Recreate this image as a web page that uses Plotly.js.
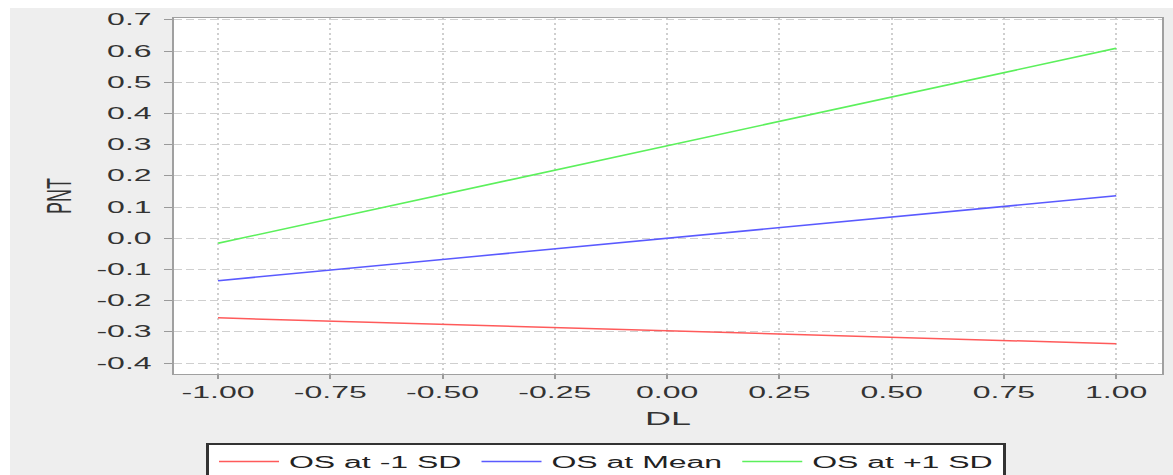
<!DOCTYPE html>
<html>
<head>
<meta charset="utf-8">
<script src="https://cdn.plot.ly/plotly-3.0.1.min.js"></script>
<style>
  html, body { margin: 0; padding: 0; background: #ffffff; width: 1173px; height: 475px; overflow: hidden; }
  #panel { position: absolute; left: 10px; top: 8px; width: 1163px; height: 467px; background: #eeeeee; }
  #wrap { position: absolute; left: 0; top: 0; width: 586.5px; height: 475px; transform: scaleX(2); transform-origin: 0 0; }
  #chart { width: 586.5px; height: 475px; }
</style>
</head>
<body>
<div id="panel"></div>
<div id="wrap"><div id="chart"></div></div>
<script>
// ---- data ----
const dlValues = [-1.0, 1.0];
const seriesNames = ['OS at -1 SD', 'OS at Mean', 'OS at +1 SD'];
const osMinus1SD = [-0.255, -0.338];
const osMean = [-0.136, 0.136];
const osPlus1SD = [-0.016, 0.609];
const seriesColors = ['#ff5a5a', '#5a5aff', '#5cf05c'];
const xTickVals = [-1.0, -0.75, -0.5, -0.25, 0.0, 0.25, 0.5, 0.75, 1.0];
const xTickText = ['-1.00', '-0.75', '-0.50', '-0.25', '0.00', '0.25', '0.50', '0.75', '1.00'];
const yTickVals = [-0.4, -0.3, -0.2, -0.1, 0.0, 0.1, 0.2, 0.3, 0.4, 0.5, 0.6, 0.7];
const yTickText = ['-0.4', '-0.3', '-0.2', '-0.1', '0.0', '0.1', '0.2', '0.3', '0.4', '0.5', '0.6', '0.7'];

const seriesValues = [osMinus1SD, osMean, osPlus1SD];
const traces = seriesNames.map((name, i) => ({
  type: 'scatter',
  mode: 'lines',
  name: name,
  x: dlValues,
  y: seriesValues[i],
  line: { color: seriesColors[i], width: 1.5 }
}));

const fontFam = '"Liberation Sans", Arial, sans-serif';
const layout = {
  width: 586.5,
  height: 475,
  margin: { l: 86.5, r: 5.5, t: 18, b: 101, autoexpand: false },
  paper_bgcolor: 'rgba(0,0,0,0)',
  plot_bgcolor: '#ffffff',
  font: { family: fontFam, color: '#333333', size: 16 },
  showlegend: true,
  legend: {
    orientation: 'h',
    x: 0.0324, xanchor: 'left',
    y: -0.194, yanchor: 'top',
    bgcolor: '#ffffff',
    bordercolor: '#333333',
    borderwidth: 1.5,
    font: { family: fontFam, size: 16, color: '#222222' },
    itemwidth: 30
  },
  xaxis: {
    range: [-1.098, 1.102],
    tickvals: xTickVals,
    ticktext: xTickText,
    ticks: 'outside', ticklen: 4, tickcolor: '#999999', tickwidth: 1,
    showline: true, linecolor: '#a0a0a0', linewidth: 1, mirror: true,
    showgrid: true, gridcolor: '#cfcfcf', gridwidth: 1, griddash: '2px,3px',
    zeroline: false,
    tickfont: { family: fontFam, size: 16, color: '#333333' },
    title: { text: 'DL', font: { family: fontFam, size: 18, color: '#333333' }, standoff: 12 }
  },
  yaxis: {
    range: [-0.435, 0.706],
    tickvals: yTickVals,
    ticktext: yTickText,
    ticks: 'outside', ticklen: 4, tickcolor: '#999999', tickwidth: 1,
    ticklabelstandoff: 3,
    showline: true, linecolor: '#a0a0a0', linewidth: 1, mirror: true,
    showgrid: true, gridcolor: '#cfcfcf', gridwidth: 1, griddash: '4px,2px',
    zeroline: false,
    tickfont: { family: fontFam, size: 16, color: '#333333' },
    title: { text: 'PNT', font: { family: fontFam, size: 18, color: '#333333' }, standoff: 7 }
  }
};

Plotly.newPlot('chart', traces, layout, { displayModeBar: false, staticPlot: true });
</script>
</body>
</html>
